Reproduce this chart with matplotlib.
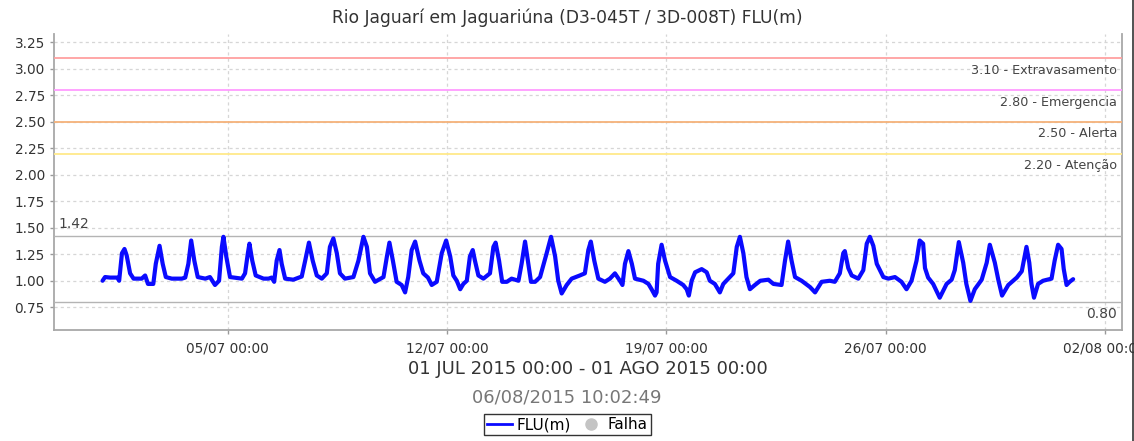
import datetime as dt
import matplotlib
matplotlib.use("Agg")
import matplotlib.pyplot as plt
import matplotlib.dates as mdates
from matplotlib.lines import Line2D

plt.rcParams['font.family'] = ['DejaVu Sans']

# ---------------- data ----------------
title = "Rio Jaguarí em Jaguariúna (D3-045T / 3D-008T) FLU(m)"
period_text = "01 JUL 2015 00:00 - 01 AGO 2015 00:00"
stamp_text = "06/08/2015 10:02:49"
start_date = dt.datetime(2015, 7, 1)
end_date = dt.datetime(2015, 8, 1)

# days since 01/07/2015 00:00
days = [0.00,0.08,0.24,0.47,0.53,0.62,0.70,0.77,0.88,0.99,
        1.25,1.36,1.45,1.62,1.70,1.82,1.92,2.02,2.21,2.53,
        2.64,2.74,2.83,2.93,3.04,3.28,3.43,3.59,3.72,3.81,
        3.86,3.95,4.07,4.45,4.55,4.64,4.69,4.78,4.89,5.14,
        5.30,5.40,5.48,5.56,5.65,5.72,5.83,6.09,6.36,6.47,
        6.59,6.71,6.84,7.00,7.16,7.26,7.37,7.48,7.58,7.74,
        8.01,8.17,8.33,8.44,8.54,8.70,8.97,9.08,9.16,9.27,
        9.39,9.55,9.66,9.76,9.87,9.98,10.12,10.24,10.39,10.51,
        10.67,10.83,10.97,11.10,11.20,11.31,11.42,11.52,11.63,11.73,
        11.82,11.89,12.00,12.16,12.37,12.48,12.55,12.66,12.76,12.91,
        13.06,13.28,13.38,13.49,13.58,13.68,13.81,13.97,14.18,14.32,
        14.45,14.55,14.66,14.82,14.98,15.24,15.40,15.51,15.59,15.70,
        15.83,16.04,16.20,16.36,16.52,16.60,16.68,16.79,16.90,17.00,
        17.27,17.43,17.53,17.64,17.69,17.74,17.85,17.96,18.12,18.33,
        18.54,18.65,18.72,18.81,18.92,19.13,19.29,19.39,19.55,19.71,
        19.82,19.98,20.14,20.25,20.35,20.46,20.56,20.67,20.83,21.00,
        21.26,21.42,21.68,21.79,21.89,22.00,22.11,22.32,22.59,22.75,
        22.96,23.22,23.38,23.54,23.65,23.70,23.81,23.92,24.13,24.29,
        24.40,24.50,24.61,24.72,24.93,25.09,25.30,25.51,25.67,25.83,
        25.99,26.09,26.20,26.26,26.36,26.52,26.73,26.95,27.11,27.21,
        27.34,27.48,27.58,27.71,27.85,28.07,28.23,28.33,28.49,28.60,
        28.72,28.92,29.19,29.35,29.50,29.59,29.66,29.74,29.87,30.03,
        30.30,30.40,30.51,30.62,30.69,30.78,30.88,30.99]

levels = [1.00,1.035,1.03,1.03,1.00,1.26,1.30,1.24,1.07,1.02,
          1.02,1.05,0.97,0.97,1.16,1.33,1.16,1.035,1.02,1.02,
          1.03,1.16,1.38,1.19,1.035,1.02,1.035,0.96,1.00,1.32,
          1.415,1.23,1.035,1.02,1.07,1.26,1.35,1.19,1.05,1.02,
          1.02,1.03,0.99,1.19,1.29,1.16,1.02,1.01,1.04,1.19,
          1.36,1.19,1.05,1.02,1.07,1.32,1.40,1.26,1.07,1.02,
          1.035,1.19,1.415,1.32,1.07,0.99,1.035,1.23,1.36,1.19,
          0.99,0.96,0.89,1.035,1.29,1.37,1.19,1.07,1.03,0.96,
          0.99,1.26,1.38,1.23,1.05,1.00,0.92,0.97,1.00,1.23,
          1.29,1.19,1.05,1.02,1.07,1.32,1.36,1.19,0.99,0.99,
          1.02,1.00,1.16,1.37,1.19,0.99,0.99,1.035,1.26,1.415,
          1.23,1.00,0.88,0.96,1.02,1.05,1.07,1.29,1.37,1.19,
          1.02,0.99,1.02,1.07,1.00,0.96,1.16,1.28,1.16,1.02,
          1.00,0.97,0.92,0.86,0.89,1.16,1.34,1.19,1.035,1.00,
          0.96,0.92,0.86,1.00,1.08,1.11,1.08,1.00,0.97,0.89,
          0.97,1.02,1.07,1.32,1.415,1.26,1.035,0.92,0.96,1.00,
          1.01,0.97,0.96,1.19,1.37,1.19,1.035,1.00,0.94,0.89,
          0.99,1.00,0.99,1.07,1.26,1.28,1.12,1.05,1.02,1.10,
          1.35,1.415,1.33,1.16,1.035,1.02,1.035,0.99,0.92,1.00,
          1.19,1.38,1.35,1.12,1.03,0.97,0.84,0.97,1.01,1.10,
          1.365,1.17,0.97,0.81,0.92,1.01,1.17,1.34,1.17,1.01,
          0.86,0.96,1.03,1.09,1.32,1.17,0.97,0.84,0.97,1.00,
          1.02,1.19,1.34,1.30,1.11,0.96,0.99,1.015]

threshold_values = [3.10, 2.80, 2.50, 2.20]
threshold_names = ["Extravasamento", "Emergencia", "Alerta", "Atenção"]
threshold_colors = ["#ffa0a0", "#ff9cff", "#f5b27a", "#ffe98a"]
max_level = 1.42
min_level = 0.80

y_ticks = [0.75, 1.00, 1.25, 1.50, 1.75, 2.00, 2.25, 2.50, 2.75, 3.00, 3.25]
x_tick_dates = ["2015-07-05", "2015-07-12", "2015-07-19", "2015-07-26", "2015-08-02"]

# ---------------- figure ----------------
W, H = 1134, 441
fig = plt.figure(figsize=(W / 100, H / 100), dpi=100)
ax = fig.add_axes([54 / W, 1 - 330 / H, (1122 - 54) / W, (330 - 34) / H])

times = [start_date + dt.timedelta(days=d) for d in days]
ax.plot(times, levels, color="#0a0aff", lw=3.0, solid_joinstyle="round",
        solid_capstyle="round", zorder=5)

# thresholds
for v, name, c in zip(threshold_values, threshold_names, threshold_colors):
    ax.axhline(v, color=c, lw=1.3, zorder=3)
    ax.annotate(f"{v:.2f} - {name}", xy=(1, v), xycoords=("axes fraction", "data"),
                xytext=(-5, -12), textcoords="offset pixels", ha="right", va="center",
                fontsize=9.2, color="#444444")

# max / min reference lines
ax.axhline(max_level, color="#b4b4b4", lw=1.0, zorder=3)
ax.axhline(min_level, color="#b4b4b4", lw=1.0, zorder=3)
ax.annotate(f"{max_level:.2f}", xy=(0, max_level), xycoords=("axes fraction", "data"),
            xytext=(4, 12), textcoords="offset pixels", ha="left", va="center",
            fontsize=10, color="#444444")
ax.annotate(f"{min_level:.2f}", xy=(1, min_level), xycoords=("axes fraction", "data"),
            xytext=(-5, -12), textcoords="offset pixels", ha="right", va="center",
            fontsize=10, color="#444444")

# axes limits / ticks
margin = dt.timedelta(days=1.55)
ax.set_xlim(start_date - margin, end_date + margin)
ax.set_ylim(0.535, 3.33)
ax.set_yticks(y_ticks)
ax.set_yticklabels([f"{t:.2f}" for t in y_ticks])
ax.set_xticks([mdates.datestr2num(d) for d in x_tick_dates])
ax.xaxis.set_major_formatter(mdates.DateFormatter("%d/%m %H:%M"))
ax.tick_params(axis="both", labelsize=9.8, colors="#333333", length=3, width=1,
               color="#999999")
ax.tick_params(axis="x", pad=5)
ax.grid(True, color="#d6d6d6", lw=0.9, linestyle=(0, (2.5, 2.5)))
ax.set_axisbelow(True)
for s in ["left", "bottom", "right"]:
    ax.spines[s].set_color("#a8a8a8")
    ax.spines[s].set_linewidth(1.3)
ax.spines["top"].set_visible(False)
for lbl in ax.get_xticklabels():
    lbl.set_clip_on(False)

# texts
fig.text(567 / W, 1 - 18 / H, title, ha="center", va="center", fontsize=12.3,
         color="#333333")
fig.text(588 / W, 1 - 369 / H, period_text, ha="center", va="center",
         fontsize=13, color="#333333")
fig.text(567 / W, 1 - 397 / H, stamp_text, ha="center", va="center",
         fontsize=13, color="#777777")

# legend
handles = [Line2D([], [], color="#0a0aff", lw=2),
           Line2D([], [], color="#c4c4c4", marker="o", ls="none", markersize=8)]
fig.legend(handles, ["FLU(m)", "Falha"], loc="center",
           bbox_to_anchor=(567.5 / W, 1 - 424.5 / H), ncol=2, fontsize=11,
           frameon=True, fancybox=False, edgecolor="black", handlelength=1.6,
           handletextpad=0.3, columnspacing=0.5, borderpad=0.2,
           borderaxespad=0)

# right image border
fig.add_artist(Line2D([1132.5 / W, 1132.5 / W], [0, 1], color="#333333", lw=1.2))

fig.savefig("out.png", dpi=100)
